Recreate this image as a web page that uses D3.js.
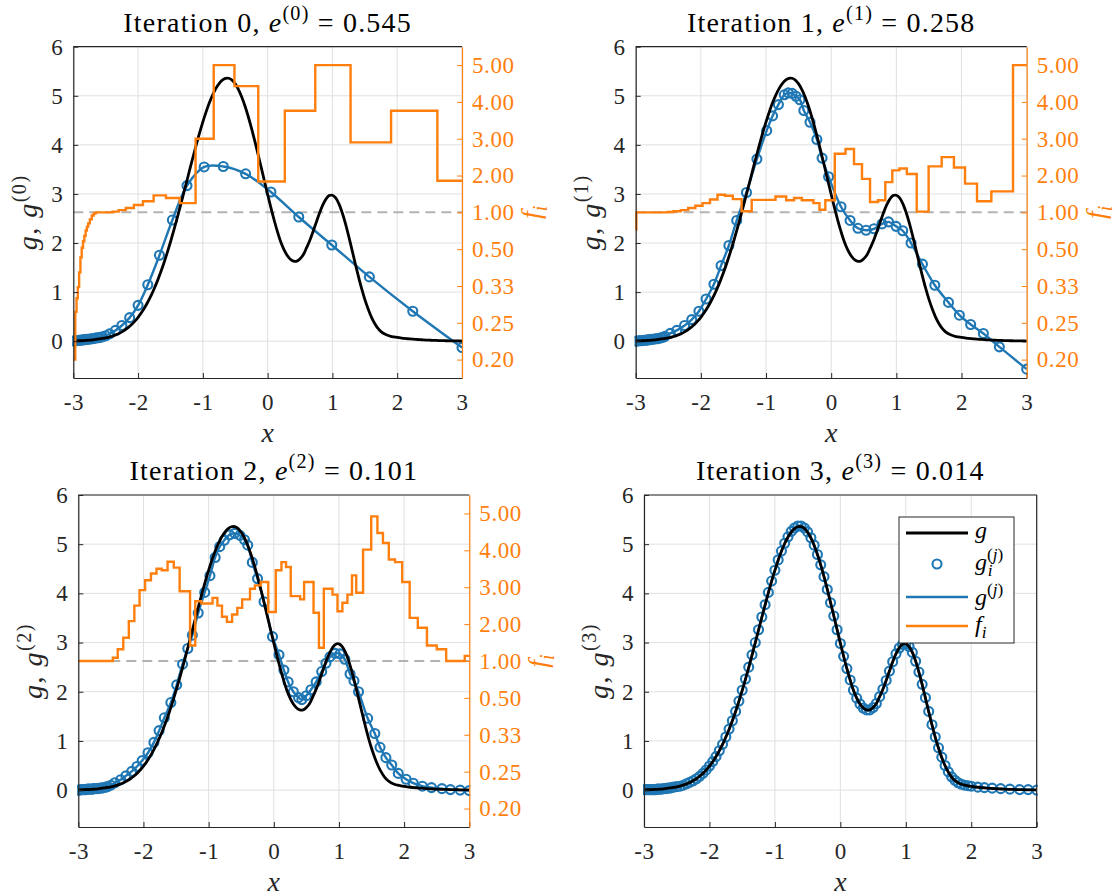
<!DOCTYPE html>
<html>
<head>
<meta charset="utf-8">
<script src="https://cdn.jsdelivr.net/npm/d3@7"></script>
<style>
  body { margin: 0; background: #fff; }
</style>
</head>
<body>
<svg id="fig" width="1120" height="896"></svg>
<script>
// ---------- axis ticks ----------
const xTicks = [-3, -2, -1, 0, 1, 2, 3];
const xTickLabels = ["-3", "-2", "-1", "0", "1", "2", "3"];
const gTicks = [0, 1, 2, 3, 4, 5, 6];
const fTicks = [1 / 5, 1 / 4, 1 / 3, 1 / 2, 1, 2, 3, 4, 5];
const fTickLabels = ["0.20", "0.25", "0.33", "0.50", "1.00", "2.00", "3.00", "4.00", "5.00"];
const iterations = [0, 1, 2, 3];
const errors = ["0.545", "0.258", "0.101", "0.014"];

// ---------- target function g on a fine grid ----------
const gridX = d3.range(-60, 61).map(i => i / 20);
const gridG = [
  0.005, 0.007, 0.009, 0.012, 0.016, 0.021, 0.027, 0.035, 0.045, 0.056,
  0.068, 0.083, 0.100, 0.125, 0.153, 0.189, 0.231, 0.281, 0.340, 0.408,
  0.487, 0.578, 0.681, 0.798, 0.928, 1.074, 1.234, 1.409, 1.599, 1.804,
  2.021, 2.251, 2.491, 2.740, 2.995, 3.251, 3.509, 3.763, 4.010, 4.247,
  4.469, 4.673, 4.856, 5.014, 5.146, 5.247, 5.317, 5.354, 5.357, 5.320,
  5.242, 5.127, 4.975, 4.791, 4.578, 4.342, 4.086, 3.816, 3.544, 3.264,
  2.988, 2.722, 2.469, 2.236, 2.030, 1.870, 1.750, 1.670, 1.630, 1.630,
  1.680, 1.760, 1.900, 2.050, 2.230, 2.420, 2.608, 2.772, 2.895, 2.966,
  2.974, 2.918, 2.799, 2.622, 2.400, 2.145, 1.871, 1.593, 1.325, 1.074,
  0.851, 0.660, 0.496, 0.366, 0.265, 0.195, 0.150, 0.120, 0.100, 0.087,
  0.076, 0.066, 0.058, 0.051, 0.045, 0.040, 0.035, 0.031, 0.027, 0.023,
  0.020, 0.017, 0.015, 0.013, 0.011, 0.009, 0.008, 0.006, 0.005, 0.004,
  0.003
];

// ---------- sample nodes shared by all iterations near the left end ----------
const clusterX = [-3.00, -2.98, -2.96, -2.94, -2.92, -2.90, -2.88, -2.86, -2.84, -2.82,
                  -2.80, -2.78, -2.76, -2.73, -2.70, -2.67, -2.64, -2.61, -2.58, -2.55];

// ---------- iteration 0 ----------
const nodeX0 = clusterX.concat([-2.50, -2.44, -2.35, -2.25, -2.13, -2.00, -1.85, -1.67, -1.47, -1.245,
                                -0.98, -0.685, -0.34, 0.05, 0.48, 0.99, 1.57, 2.24, 3.00]);
const nodeG0 = [0.00, 0.01, 0.01, 0.01, 0.02, 0.02, 0.02, 0.03, 0.03, 0.03,
                0.04, 0.04, 0.04, 0.05, 0.05, 0.06, 0.07, 0.07, 0.08, 0.09,
                0.11, 0.15, 0.22, 0.32, 0.48, 0.73, 1.15, 1.75, 2.47, 3.17,
                3.55, 3.56, 3.41, 3.04, 2.53, 1.96, 1.31, 0.61, -0.13];
const nodeF0 = [0.20, 0.20, 0.27, 0.30, 0.33, 0.38, 0.45, 0.51, 0.56, 0.61,
                0.67, 0.72, 0.77, 0.84, 0.92, 0.97, 1.00, 1.00, 1.00, 1.00,
                1.00, 1.00, 1.02, 1.06, 1.12, 1.20, 1.30, 1.46, 1.39, 1.25,
                3.00, 5.00, 4.43, 1.84, 3.76, 5.00, 2.90, 3.76, 1.86];

// ---------- iteration 1 ----------
const nodeX1 = clusterX.concat([-2.47, -2.37, -2.25, -2.14, -2.03, -1.92, -1.80, -1.69, -1.57, -1.45,
                                -1.30, -1.14, -0.99, -0.90, -0.81, -0.72, -0.66, -0.60, -0.54, -0.48,
                                -0.42, -0.325, -0.22, -0.14, -0.04, 0.15, 0.29, 0.41, 0.535, 0.657,
                                0.78, 0.88, 0.995, 1.097, 1.225, 1.40, 1.59, 1.80, 1.967, 2.14,
                                2.335, 2.58, 3.00]);
const nodeG1 = [0.00, 0.00, 0.01, 0.01, 0.01, 0.01, 0.02, 0.02, 0.02, 0.03,
                0.03, 0.03, 0.04, 0.04, 0.05, 0.05, 0.06, 0.07, 0.08, 0.10,
                0.16, 0.22, 0.32, 0.44, 0.61, 0.86, 1.16, 1.54, 1.95, 2.46,
                3.03, 3.71, 4.29, 4.59, 4.82, 5.02, 5.06, 5.05, 4.99, 4.92,
                4.70, 4.46, 4.11, 3.73, 3.35, 2.74, 2.46, 2.30, 2.26, 2.29,
                2.39, 2.43, 2.34, 2.25, 2.00, 1.57, 1.14, 0.79, 0.53, 0.34,
                0.156, -0.115, -0.57];
const nodeF1 = [0.68, 1.00, 1.00, 1.00, 1.00, 1.00, 1.00, 1.00, 1.00, 1.00,
                1.00, 1.00, 1.00, 1.00, 1.00, 1.00, 1.00, 1.00, 1.00, 1.00,
                1.01, 1.03, 1.06, 1.12, 1.18, 1.25, 1.35, 1.48, 1.45, 1.36,
                1.03, 1.34, 1.34, 1.34, 1.43, 1.43, 1.33, 1.33, 1.39, 1.39,
                1.33, 1.33, 1.25, 1.07, 1.33, 2.59, 2.72, 2.31, 1.91, 1.28,
                1.33, 1.82, 2.14, 2.19, 2.04, 1.02, 2.25, 2.50, 2.22, 1.78,
                1.30, 1.57, 5.00];

// ---------- iteration 2 ----------
const nodeX2 = clusterX.concat([-2.50, -2.44, -2.35, -2.27, -2.18, -2.10, -2.02, -1.93, -1.84, -1.76,
                                -1.68, -1.58, -1.49, -1.40, -1.32, -1.25, -1.16, -1.06, -0.98, -0.90,
                                -0.83, -0.76, -0.68, -0.60, -0.52, -0.45, -0.40, -0.33, -0.25, -0.15,
                                -0.02, 0.08, 0.155, 0.22, 0.30, 0.38, 0.43, 0.50, 0.57, 0.65,
                                0.735, 0.80, 0.862, 0.94, 1.015, 1.09, 1.17, 1.23, 1.30, 1.44,
                                1.55, 1.63, 1.72, 1.81, 1.91, 2.03, 2.14, 2.28, 2.42, 2.58,
                                2.71, 2.86, 3.00]);
const nodeG2 = [0.00, 0.00, 0.01, 0.01, 0.01, 0.01, 0.01, 0.02, 0.02, 0.02,
                0.02, 0.02, 0.03, 0.03, 0.03, 0.04, 0.04, 0.05, 0.06, 0.07,
                0.10, 0.15, 0.21, 0.29, 0.38, 0.48, 0.60, 0.76, 0.97, 1.21,
                1.47, 1.78, 2.14, 2.56, 2.88, 3.15, 3.60, 4.02, 4.36, 4.73,
                4.95, 5.08, 5.19, 5.22, 5.18, 5.09, 4.98, 4.63, 4.30, 3.83,
                3.12, 2.75, 2.44, 2.20, 2.00, 1.88, 1.84, 1.92, 2.04, 2.20,
                2.41, 2.58, 2.71, 2.78, 2.77, 2.66, 2.36, 2.22, 2.00, 1.46,
                1.15, 0.87, 0.66, 0.51, 0.34, 0.22, 0.14, 0.08, 0.05, 0.03,
                0.01, 0.00, -0.01];
const nodeF2 = [1.00, 1.00, 1.00, 1.00, 1.00, 1.00, 1.00, 1.00, 1.00, 1.00,
                1.00, 1.00, 1.00, 1.00, 1.00, 1.00, 1.00, 1.00, 1.00, 1.00,
                1.00, 1.09, 1.32, 1.63, 2.08, 2.50, 2.92, 3.19, 3.37, 3.50,
                3.46, 3.69, 3.53, 2.89, 2.89, 1.42, 2.62, 2.56, 2.56, 2.71,
                2.50, 2.20, 2.06, 2.26, 2.44, 2.67, 2.67, 2.96, 3.05, 3.14,
                2.33, 3.46, 3.68, 3.55, 2.76, 2.76, 2.67, 3.14, 3.14, 2.31,
                1.36, 2.96, 2.96, 2.80, 2.35, 2.58, 2.80, 3.32, 2.85, 4.02,
                4.92, 4.47, 4.20, 3.75, 3.68, 3.14, 2.17, 1.90, 1.42, 1.32,
                1.00, 1.00, 1.14];

// ---------- iteration 3 ----------
const tailX3 = [2.10, 2.20, 2.32, 2.45, 2.59, 2.74, 2.87, 3.00];
const nodeX3 = clusterX.concat(gridX.filter(v => v > -2.501 && v < 2.001), tailX3);
const nodeG3 = [0.01, 0.01, 0.01, 0.01, 0.01, 0.01, 0.01, 0.01, 0.01, 0.01,
                0.02, 0.02, 0.02, 0.02, 0.03, 0.03, 0.04, 0.04, 0.05, 0.06,
                0.07, 0.08, 0.10, 0.13, 0.16, 0.19, 0.23, 0.28, 0.34, 0.41,
                0.49, 0.58, 0.68, 0.80, 0.93, 1.08, 1.24, 1.41, 1.60, 1.81,
                2.03, 2.26, 2.50, 2.75, 3.00, 3.26, 3.52, 3.77, 4.02, 4.25,
                4.47, 4.68, 4.86, 5.02, 5.15, 5.26, 5.33, 5.37, 5.37, 5.33,
                5.25, 5.13, 4.98, 4.79, 4.58, 4.34, 4.08, 3.81, 3.54, 3.26,
                2.98, 2.72, 2.47, 2.24, 2.03, 1.87, 1.75, 1.67, 1.63, 1.63,
                1.68, 1.76, 1.90, 2.05, 2.23, 2.42, 2.61, 2.77, 2.89, 2.96,
                2.97, 2.92, 2.80, 2.62, 2.40, 2.15, 1.88, 1.60, 1.33, 1.08,
                0.86, 0.67, 0.50, 0.37, 0.27, 0.20, 0.15, 0.12, 0.10, 0.09,
                0.08, 0.06, 0.05, 0.04, 0.03, 0.02, 0.01, 0.01, 0.00];

// ---------- drawing ----------
const FONT = '"Liberation Serif"';
const COL = {
  blue: "#1f77b4", orange: "#ff7f0e", black: "#000000",
  axis: "#262626", grid: "#e0e0e0", dash: "#b3b3b3"
};
const svg = d3.select("#fig").attr("font-family", FONT);
svg.append("rect").attr("width", 1120).attr("height", 896).attr("fill", "#fff");

const frames = [
  { l: 73.3, r: 462.0, t: 46.7, b: 378.0 },
  { l: 635.7, r: 1026.7, t: 46.7, b: 378.0 },
  { l: 78.3, r: 469.3, t: 495.0, b: 827.0 },
  { l: 644.0, r: 1036.7, t: 495.0, b: 827.0 }
];
const series = [
  { x: nodeX0, g: nodeG0, f: nodeF0 },
  { x: nodeX1, g: nodeG1, f: nodeF1 },
  { x: nodeX2, g: nodeG2, f: nodeF2 },
  { x: nodeX3, g: nodeG3, f: null }
];

// right axis warp: f >= 1 linear, f < 1 mirrored through 1/f
const warpF = f => (f >= 1 ? f - 1 : 1 - 1 / f);

const TICK_FS = 23, LABEL_FS = 28, TITLE_FS = 28;
const R = 4.5, RW = 2.1;

// writes text made of plain / italic / super / subscript pieces
function mathText(sel, parts, size, spacing) {
  sel.attr("font-family", FONT).attr("letter-spacing", spacing || 0);
  let shift = 0;
  parts.forEach(p => {
    const ts = sel.append("tspan").text(p.t);
    let fs = size, dy = 0;
    if (p.sup) { fs = size * 0.72; dy = -size * 0.42; }
    else if (p.sub) { fs = size * 0.72; dy = size * 0.25; }
    ts.attr("font-size", fs).attr("dy", dy - shift);
    if (p.dx) ts.attr("dx", p.dx);
    shift = dy;
    if (p.it) ts.attr("font-style", "italic");
  });
  return sel;
}

function styleAxis(a, color) {
  a.attr("font-family", FONT);
  a.select(".domain").attr("stroke", color).attr("stroke-width", 1.2);
  a.selectAll(".tick line").attr("stroke", color);
  a.selectAll("text").attr("font-size", TICK_FS).attr("fill", color)
    .attr("font-family", FONT).attr("letter-spacing", 0.6);
}

series.forEach((s, k) => {
  const fr = frames[k];
  const x = d3.scaleLinear().domain([-3, 3]).range([fr.l, fr.r]);
  const y = d3.scaleLinear().domain([-0.75, 6]).range([fr.b, fr.t]);
  const yR = d3.scaleLinear().domain([-4.5, 4.5]).range([fr.b, fr.t]);
  const panel = svg.append("g");

  // grid
  panel.append("g").selectAll("line").data(xTicks).join("line")
    .attr("x1", d => x(d)).attr("x2", d => x(d))
    .attr("y1", fr.t).attr("y2", fr.b)
    .attr("stroke", COL.grid).attr("stroke-width", 1);
  panel.append("g").selectAll("line").data(gTicks).join("line")
    .attr("x1", fr.l).attr("x2", fr.r)
    .attr("y1", d => y(d)).attr("y2", d => y(d))
    .attr("stroke", COL.grid).attr("stroke-width", 1);

  const clipId = "clip" + k;
  svg.append("clipPath").attr("id", clipId).append("rect")
    .attr("x", fr.l - 1).attr("y", fr.t).attr("width", fr.r - fr.l + 2).attr("height", fr.b - fr.t);
  const plot = panel.append("g").attr("clip-path", `url(#${clipId})`);

  const nodes = s.x.map((v, i) => ({ x: v, g: s.g[i], f: s.f ? s.f[i] : null }));

  // reference level f = 1
  if (s.f) {
    plot.append("line")
      .attr("x1", fr.l).attr("x2", fr.r)
      .attr("y1", yR(warpF(1))).attr("y2", yR(warpF(1)))
      .attr("stroke", COL.dash).attr("stroke-width", 2)
      .attr("stroke-dasharray", "10,6");
  }

  // approximation g^(j)
  plot.append("path").datum(nodes)
    .attr("d", d3.line().curve(d3.curveCatmullRom.alpha(0.5)).x(d => x(d.x)).y(d => y(d.g)))
    .attr("fill", "none").attr("stroke", COL.blue).attr("stroke-width", 2.4);

  // sampled values g_i^(j)
  plot.append("g").selectAll("circle").data(nodes).join("circle")
    .attr("cx", d => x(d.x)).attr("cy", d => y(d.g)).attr("r", R)
    .attr("fill", "none").attr("stroke", COL.blue).attr("stroke-width", RW);

  // exact g
  plot.append("path").datum(gridX.map((v, i) => ({ x: v, g: gridG[i] })))
    .attr("d", d3.line().curve(d3.curveCatmullRom.alpha(0.5)).x(d => x(d.x)).y(d => y(d.g)))
    .attr("fill", "none").attr("stroke", COL.black).attr("stroke-width", 2.8);

  // refinement factors f_i
  if (s.f) {
    plot.append("path").datum(nodes)
      .attr("d", d3.line().curve(d3.curveStep).x(d => x(d.x)).y(d => yR(warpF(d.f))))
      .attr("fill", "none").attr("stroke", COL.orange).attr("stroke-width", 2.4)
      .attr("stroke-linejoin", "miter");
  }

  // bottom axis
  const ax = panel.append("g").attr("transform", `translate(0,${fr.b})`)
    .call(d3.axisBottom(x).tickValues(xTicks).tickFormat((d, i) => xTickLabels[i])
      .tickSizeInner(-5).tickSizeOuter(0).tickPadding(16));
  styleAxis(ax, COL.axis);

  // left axis
  const ay = panel.append("g").attr("transform", `translate(${fr.l},0)`)
    .call(d3.axisLeft(y).tickValues(gTicks).tickFormat(d3.format("d"))
      .tickSizeInner(-5).tickSizeOuter(0).tickPadding(10));
  styleAxis(ay, COL.axis);

  // top border
  panel.append("line").attr("x1", fr.l).attr("x2", fr.r).attr("y1", fr.t).attr("y2", fr.t)
    .attr("stroke", COL.axis).attr("stroke-width", 1.2);

  if (s.f) {
    const ar = panel.append("g").attr("transform", `translate(${fr.r},0)`)
      .call(d3.axisRight(yR).tickValues(fTicks.map(warpF)).tickFormat((d, i) => fTickLabels[i])
        .tickSizeInner(-5).tickSizeOuter(0).tickPadding(10));
    styleAxis(ar, COL.orange);

    const rl = panel.append("text").attr("text-anchor", "middle").attr("fill", COL.orange)
      .attr("transform", `translate(${fr.r + 78},${(fr.t + fr.b) / 2}) rotate(-90)`);
    mathText(rl, [{ t: "f", it: true }, { t: "i", it: true, sub: true }], LABEL_FS);
  } else {
    panel.append("line").attr("x1", fr.r).attr("x2", fr.r).attr("y1", fr.t).attr("y2", fr.b)
      .attr("stroke", COL.axis).attr("stroke-width", 1.2);
  }

  // labels
  const xl = panel.append("text").attr("text-anchor", "middle").attr("fill", COL.axis)
    .attr("x", (fr.l + fr.r) / 2).attr("y", fr.b + 64);
  mathText(xl, [{ t: "x", it: true }], LABEL_FS);

  const yl = panel.append("text").attr("text-anchor", "middle").attr("fill", COL.axis)
    .attr("transform", `translate(${fr.l - 36},${(fr.t + fr.b) / 2}) rotate(-90)`);
  mathText(yl, [{ t: "g", it: true }, { t: ", " }, { t: "g", it: true },
                { t: "(" + iterations[k] + ")", sup: true }], LABEL_FS, 1.5);

  const tl = panel.append("text").attr("text-anchor", "middle").attr("fill", "#000")
    .attr("x", (fr.l + fr.r) / 2).attr("y", fr.t - 15);
  mathText(tl, [{ t: "Iteration " + iterations[k] + ", " }, { t: "e", it: true },
                { t: "(" + iterations[k] + ")", sup: true }, { t: " = " + errors[k] }], TITLE_FS, 1.2);
});

// ---------- legend (last panel) ----------
const lg = svg.append("g");
const LX = 899, LY = 517, LW = 115, LH = 126;
lg.append("rect").attr("x", LX).attr("y", LY).attr("width", LW).attr("height", LH)
  .attr("fill", "#fff").attr("stroke", COL.axis).attr("stroke-width", 1);
const rows = [533, 564, 597, 626];
lg.append("line").attr("x1", LX + 7).attr("x2", LX + 69).attr("y1", rows[0]).attr("y2", rows[0])
  .attr("stroke", COL.black).attr("stroke-width", 2.8);
lg.append("circle").attr("cx", LX + 38).attr("cy", rows[1]).attr("r", R)
  .attr("fill", "none").attr("stroke", COL.blue).attr("stroke-width", RW);
lg.append("line").attr("x1", LX + 7).attr("x2", LX + 69).attr("y1", rows[2]).attr("y2", rows[2])
  .attr("stroke", COL.blue).attr("stroke-width", 2.4);
lg.append("line").attr("x1", LX + 7).attr("x2", LX + 69).attr("y1", rows[3]).attr("y2", rows[3])
  .attr("stroke", COL.orange).attr("stroke-width", 2.4);

const tx = LX + 76, LFS = 24;
mathText(lg.append("text").attr("x", tx).attr("y", rows[0] + 5), [{ t: "g", it: true }], LFS);
// g with stacked super- and subscript in one text run
mathText(lg.append("text").attr("x", tx).attr("y", rows[1] + 6),
  [{ t: "g", it: true }, { t: "(", sup: true }, { t: "j", it: true, sup: true }, { t: ")", sup: true },
   { t: "i", it: true, sub: true, dx: -LFS * 0.72 * 0.9 }], LFS);
mathText(lg.append("text").attr("x", tx).attr("y", rows[2] + 8),
  [{ t: "g", it: true }, { t: "(", sup: true }, { t: "j", it: true, sup: true }, { t: ")", sup: true }], LFS);
mathText(lg.append("text").attr("x", tx).attr("y", rows[3] + 6),
  [{ t: "f", it: true }, { t: "i", it: true, sub: true }], LFS);
</script>
</body>
</html>
